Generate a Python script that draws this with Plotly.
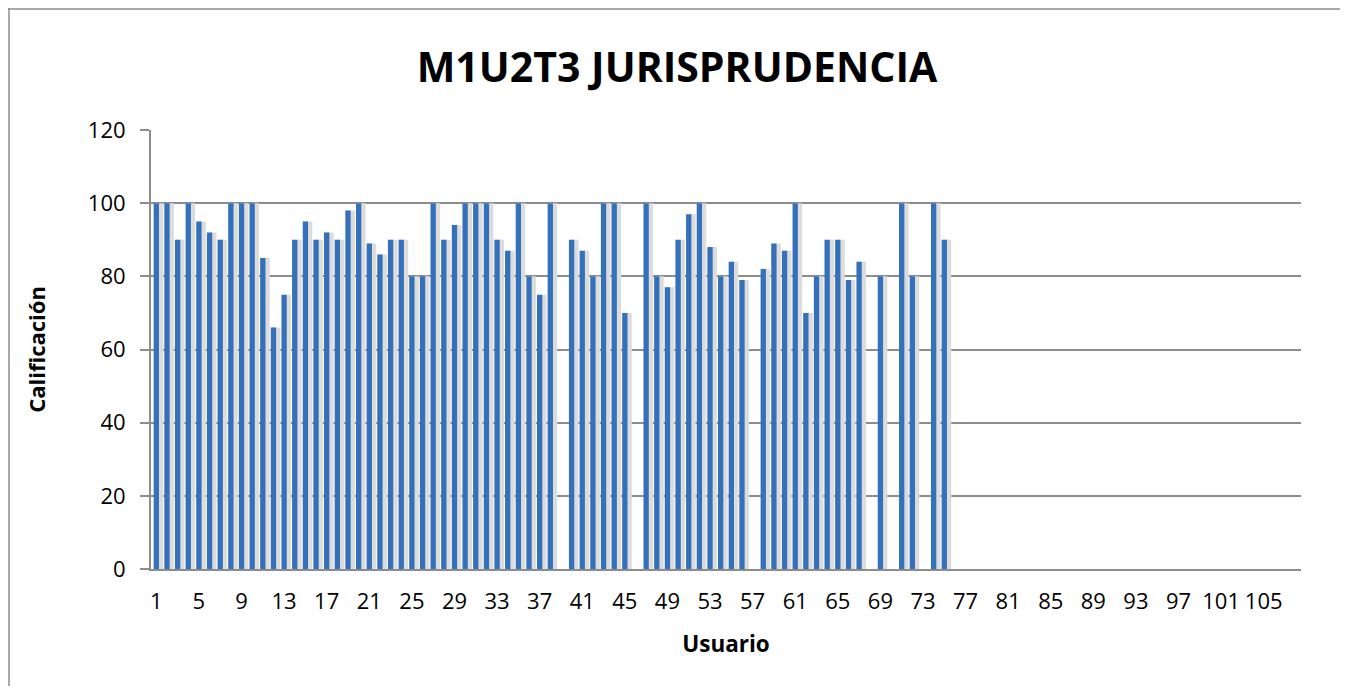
import plotly.graph_objects as go

# Calificación por usuario (None = sin calificación)
usuarios = list(range(1, 109))
calificaciones = [
    100, 100, 90, 100, 95, 92, 90, 100, 100, 100,
    85, 66, 75, 90, 95, 90, 92, 90, 98, 100,
    89, 86, 90, 90, 80, 80, 100, 90, 94, 100,
    100, 100, 90, 87, 100, 80, 75, 100, None, 90,
    87, 80, 100, 100, 70, None, 100, 80, 77, 90,
    97, 100, 88, 80, 84, 79, None, 82, 89, 87,
    100, 70, 80, 90, 90, 79, 84, None, 80, None,
    100, 80, None, 100, 90,
] + [None] * 33
tick_usuarios = list(range(1, 106, 4))
y_ticks = [0, 20, 40, 60, 80, 100, 120]

# page has an 8px body margin, so the figure is a bit smaller than the window
W, H = 1332, 678
L, R, T, B = 143, 39, 122, 117
GRID = "#8c8c8c"
FONT = "Open Sans, Liberation Sans, sans-serif"

fig = go.Figure()
# soft shadow behind each bar
fig.add_trace(go.Bar(x=usuarios, y=calificaciones, width=0.85, offset=-0.2,
                     marker=dict(color="#dcdcdc", line_width=0), hoverinfo="skip"))
fig.add_trace(go.Bar(x=usuarios, y=calificaciones, width=0.5, offset=-0.25,
                     marker=dict(color="#3570bb", line_width=0), name="Calificación"))


def px_x(p):
    return (p - L) / (W - L - R)


def px_y(p):
    return (H - B - p) / (H - T - B)


# outer chart border (left + top)
fig.add_shape(type="line", xref="paper", yref="paper", x0=px_x(1), x1=px_x(1),
              y0=px_y(0), y1=px_y(H + 5), line=dict(color=GRID, width=1.5))
fig.add_shape(type="line", xref="paper", yref="paper", x0=px_x(0), x1=px_x(W + 5),
              y0=px_y(1), y1=px_y(1), line=dict(color=GRID, width=1.5))

fig.update_layout(
    width=W, height=H, barmode="overlay", showlegend=False,
    plot_bgcolor="white", paper_bgcolor="white",
    margin=dict(l=L, r=R, t=T, b=B),
    font=dict(family=FONT, size=22, color="black"),
    title=dict(text="<b>M1U2T3 JURISPRUDENCIA</b>", x=(677 - 8) / W, xanchor="center",
               y=1 - 60 / H, yanchor="middle", font=dict(size=41, family=FONT)),
    xaxis=dict(range=[0.5, 108.5], tickvals=tick_usuarios, ticktext=[str(v) for v in tick_usuarios],
               tickangle=0, showgrid=False, showline=True, linecolor=GRID, linewidth=2,
               ticks="", ticklabelstandoff=12, zeroline=False,
               title=dict(text="<b>Usuario</b>", font=dict(size=22.5), standoff=22)),
    yaxis=dict(range=[0, 120], tickvals=y_ticks, showgrid=True, gridcolor=GRID, gridwidth=2,
               showline=True, linecolor=GRID, linewidth=2, ticks="outside", ticklen=9,
               tickcolor=GRID, tickwidth=2, ticklabelstandoff=10, zeroline=False,
               title=dict(text="<b>Calificación</b>", font=dict(size=22), standoff=36)),
)

fig.write_html("out.html")
